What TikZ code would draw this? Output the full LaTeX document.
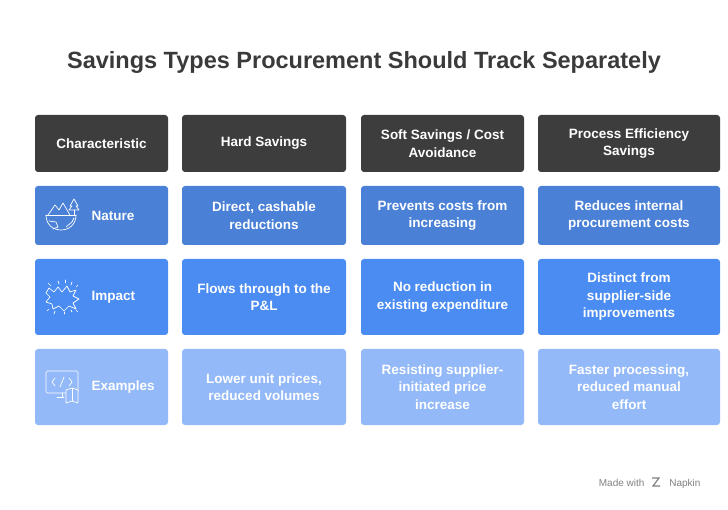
\documentclass[tikz,border=0pt]{standalone}
\usepackage{fontspec}
\setmainfont{Liberation Sans}
\definecolor{darkhead}{HTML}{3D3D3D}
\definecolor{natureblue}{HTML}{4A80D6}
\definecolor{impactblue}{HTML}{4B8CF2}
\definecolor{exampleblue}{HTML}{93B9F8}
\definecolor{titlegray}{HTML}{3A3A3A}
\tikzset{
  cell/.style={rounded corners=3pt, align=center, text=white, font=\bfseries\fontsize{13.5}{17.5}\selectfont, inner sep=0pt},
  headcell/.style={cell, fill=darkhead},
  rowlabel/.style={anchor=west, text=white, font=\bfseries\fontsize{13.5}{17.5}\selectfont},
  icon/.style={draw=white, line width=0.7pt, line cap=round, line join=round},
}
\begin{document}
\begin{tikzpicture}[x=1pt,y=-1pt]
  \useasboundingbox (0,0) rectangle (728,510);

  \node[text=titlegray, font=\bfseries\fontsize{23.5}{28}\selectfont] (title) at (364,62) {Savings Types Procurement Should Track Separately};

  % header row
  \node[headcell, minimum width=133pt, minimum height=57pt] (h1) at (101.5,143.5) {Characteristic};
  \node[headcell, minimum width=164pt, minimum height=57pt] (h2) at (264,143.5) {Hard Savings};
  \node[headcell, minimum width=163pt, minimum height=57pt] (h3) at (442.5,143.5) {Soft Savings / Cost\\Avoidance};
  \node[headcell, minimum width=182pt, minimum height=57pt] (h4) at (629,143.5) {Process Efficiency\\Savings};

  % nature row
  \node[cell, fill=natureblue, minimum width=133pt, minimum height=59pt] (n1) at (101.5,215.5) {};
  \node[cell, fill=natureblue, minimum width=164pt, minimum height=59pt] (n2) at (264,215.5) {Direct, cashable\\reductions};
  \node[cell, fill=natureblue, minimum width=163pt, minimum height=59pt] (n3) at (442.5,215.5) {Prevents costs from\\increasing};
  \node[cell, fill=natureblue, minimum width=182pt, minimum height=59pt] (n4) at (629,215.5) {Reduces internal\\procurement costs};
  \node[rowlabel] (nlabel) at (88,215.5) {Nature};

  % impact row
  \node[cell, fill=impactblue, minimum width=133pt, minimum height=76pt] (i1) at (101.5,297) {};
  \node[cell, fill=impactblue, minimum width=164pt, minimum height=76pt] (i2) at (264,297) {Flows through to the\\P\&L};
  \node[cell, fill=impactblue, minimum width=163pt, minimum height=76pt] (i3) at (442.5,297) {No reduction in\\existing expenditure};
  \node[cell, fill=impactblue, minimum width=182pt, minimum height=76pt] (i4) at (629,297) {Distinct from\\supplier-side\\improvements};
  \node[rowlabel] (ilabel) at (88,297) {Impact};

  % examples row
  \node[cell, fill=exampleblue, minimum width=133pt, minimum height=76pt] (e1) at (101.5,387) {};
  \node[cell, fill=exampleblue, minimum width=164pt, minimum height=76pt] (e2) at (264,387) {Lower unit prices,\\reduced volumes};
  \node[cell, fill=exampleblue, minimum width=163pt, minimum height=76pt] (e3) at (442.5,387) {Resisting supplier-\\initiated price\\increase};
  \node[cell, fill=exampleblue, minimum width=182pt, minimum height=76pt] (e4) at (629,387) {Faster processing,\\reduced manual\\effort};
  \node[rowlabel] (elabel) at (88,387) {Examples};

  % nature icon
  \draw[icon] (46,215) .. controls (46,235) and (76,235) .. (76,215);
  \draw[icon] (46,215) -- (76,215);
  \draw[icon] (48,215) -- (55,205) -- (59,210) -- (63,203) -- (70,215);
  \draw[icon] (49,221) -- (56,222) -- (58,227) -- (53,229);
  \draw[icon] (66,227) -- (72,222) -- (74,218);
  \draw[icon] (74,215) -- (74,210);
  \draw[icon] (74,199) -- (70,206) -- (72,206) -- (69,210) -- (79,210) -- (76,206) -- (78,206) -- cycle;

  % impact icon
  \draw[icon] (49,288) -- (54,292) -- (58,287) -- (62,292) -- (67,286) -- (70,292) -- (76,290) -- (73,296) -- (79,299) -- (73,303) -- (76,309) -- (69,306) -- (64,311) -- (59,306) -- (53,309) -- (52,304) -- (46,302) -- (50,297) -- (46,293) -- cycle;
  \foreach \a/\b/\c/\d in {48/283/51/286, 58/281/59/284, 65/280/65/283, 72/282/71/285, 78/285/76/287, 47/311/49/309, 54/314/55/311, 64/314/64/312, 72/312/71/310, 78/312/76/310}
    \draw[icon] (\a,\b) -- (\c,\d);

  % examples icon
  \draw[icon, rounded corners=1.5pt] (46,371) rectangle (78,393);
  \draw[icon] (62,393) -- (62,397) (57,397) -- (64,397);
  \draw[icon] (55,378) -- (52,382) -- (55,386);
  \draw[icon] (69,378) -- (72,382) -- (69,386);
  \draw[icon] (64,377) -- (60,387);
  \draw[icon, fill=exampleblue] (66,390) -- (66,403) -- (72,401) -- (78,403) -- (78,390) -- (72,388) -- cycle;
  \draw[icon] (72,388) -- (72,401);

  % footer
  \node[anchor=base east, text=gray, font=\fontsize{10}{12}\selectfont] (brand) at (704,486) {Napkin};
  \node[anchor=base east, text=gray, font=\fontsize{10}{12}\selectfont] (made) at (648,486) {Made with};
  \draw[gray, line width=1.2pt] (652,478) -- (659,478) -- (653,486) -- (660,486);
\end{tikzpicture}
\end{document}
